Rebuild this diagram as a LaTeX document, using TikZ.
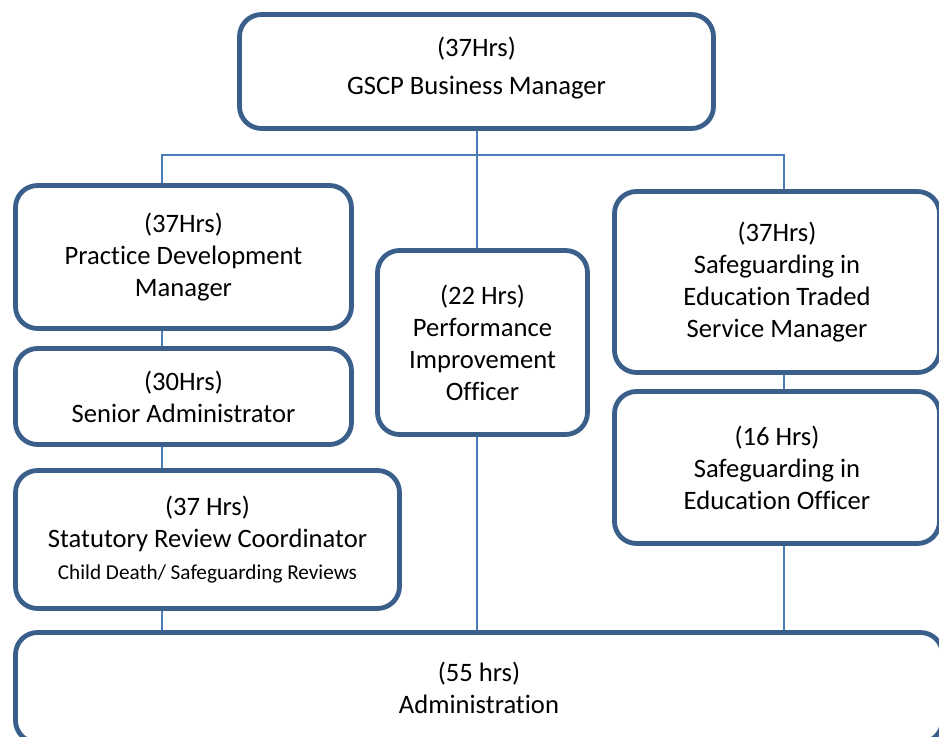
\documentclass[tikz,border=0pt]{standalone}
\usepackage{fontspec}
\setmainfont{Carlito}[Ligatures=NoCommon]
\usepackage{tikz}
\usetikzlibrary{positioning}

\definecolor{boxline}{HTML}{3A5F8B}
\definecolor{linkline}{HTML}{4A7EBB}

\begin{document}
\begin{tikzpicture}[x=0.5pt, y=-0.5pt,
    box/.style={draw=boxline, line width=2.4pt, rounded corners=11pt, fill=white,
                align=center, inner sep=0pt, font=\fontsize{13.3}{16}\selectfont},
    link/.style={draw=linkline, line width=0.9pt}]
                        \useasboundingbox (0,0) rectangle (939,737);
                        % bus coordinates
                        \coordinate (lbus) at (162,155);
                        \coordinate (mbus) at (477,155);
                        \coordinate (rbus) at (784,155);

                        \node [box, minimum width=237pt, minimum height=57pt, text depth=6pt] (top) at (476.5,71.5) {(37Hrs)\\[3pt] GSCP Business Manager};
                        \node [box, minimum width=168pt, minimum height=71.5pt] (pdm) at (183.5,257) {(37Hrs)\\ Practice Development\\ Manager};
                        \node [box, minimum width=168pt, minimum height=48pt] (sa) at (183.5,396.5) {(30Hrs)\\ Senior Administrator};
                        \node [box, minimum width=192pt, minimum height=69pt] (stat) at (207.5,539.5) {(37 Hrs)\\ Statutory Review Coordinator\\ {\fontsize{10.6}{14}\selectfont Child Death/ Safeguarding Reviews}};
                        \node [box, minimum width=105pt, minimum height=92pt] (perf) at (482.5,342.5) {(22 Hrs)\\ Performance\\ Improvement\\ Officer};
                        \node [box, minimum width=162.5pt, minimum height=90.5pt] (siet) at (777,282) {(37Hrs)\\ Safeguarding in\\ Education Traded\\ Service Manager};
                        \node [box, minimum width=162.5pt, minimum height=76pt] (sieo) at (777,467.5) {(16 Hrs)\\ Safeguarding in\\ Education Officer};
                        \node [box, minimum width=463.5pt, minimum height=55pt] (admin) at (479,687.5) {(55 hrs)\\ Administration};

                        \path [link] (mbus |- top.south) -- (mbus |- perf.north);
                        \path [link] (lbus |- pdm.north) |- (rbus) -- (rbus |- siet.north);
                        \path [link] (lbus |- pdm.south) -- (lbus |- sa.north);
                        \path [link] (lbus |- sa.south) -- (lbus |- stat.north);
                        \path [link] (lbus |- stat.south) -- (lbus |- admin.north);
                        \path [link] (mbus |- perf.south) -- (mbus |- admin.north);
                        \path [link] (rbus |- siet.south) -- (rbus |- sieo.north);
                        \path [link] (rbus |- sieo.south) -- (rbus |- admin.north);
                    \end{tikzpicture}
\end{document}
